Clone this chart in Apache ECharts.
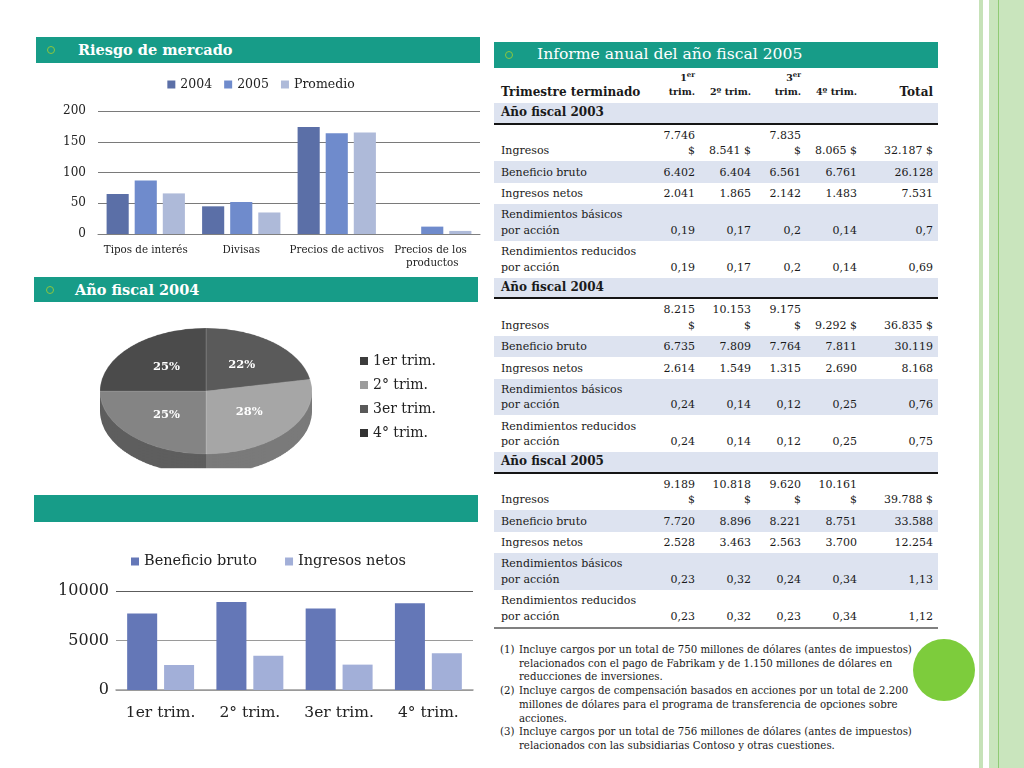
<!DOCTYPE html>
<html><head><meta charset="utf-8">
<script src="https://cdn.jsdelivr.net/npm/echarts@6/dist/echarts.min.js"></script>
<style>
*{box-sizing:border-box}
body{margin:0;width:1024px;height:768px;position:relative;background:#fff;font-family:"DejaVu Serif",serif;overflow:hidden;color:#1a1a1a}
.abs{position:absolute}
.hdr{position:absolute;background:#179c88;color:#fff;white-space:nowrap}
.hdr .dot{position:absolute;width:8px;height:8px;border:1.6px solid #8dc63f;border-radius:50%}
.hdr .t{position:absolute;top:0}
#tbl{position:absolute;left:494px;top:68px;width:444px;font-size:11px}
.row{display:flex;width:444px}
.cell{display:flex;flex-direction:column;justify-content:flex-end;text-align:right;line-height:15.5px;padding-bottom:2.5px;white-space:normal}
.c0{width:156px;padding-left:7px;text-align:left}
.c1{width:49px;padding-left:9px;padding-right:4px}
.c2{width:56px;padding-left:6.5px;padding-right:4px}
.c3{width:50px;padding-left:10px;padding-right:4px}
.c4{width:56px;padding-left:6.5px;padding-right:4px}
.c5{width:77px;padding-left:5px;padding-right:5px}
.shade{background:#dde3f0}
.fy{background:#dde3f0;border-bottom:2px solid #151515;font-weight:bold;font-size:12px}
.fy .cell{justify-content:center;padding-bottom:0}
.head .cell{font-weight:bold;font-size:9.5px;line-height:14px;padding-bottom:4px}
.head .c0,.head .c5{font-size:12px}
sup{font-size:7px;line-height:0;vertical-align:4px}
#notes{position:absolute;left:500px;top:643px;font-size:10.2px;line-height:13.7px;white-space:nowrap}
#notes .n{position:relative;padding-left:19px}
#notes .n span{position:absolute;left:0}
</style></head>
<body>
<div class="abs" style="left:979px;top:0;width:4px;height:768px;background:#c6e2b8"></div>
<div class="abs" style="left:989px;top:0;width:35px;height:768px;background:#c9e5bd"></div>
<div class="abs" style="left:998px;top:0;width:1.2px;height:768px;background:#8fca74"></div>
<div class="abs" style="left:913px;top:639px;width:62px;height:62px;border-radius:50%;background:#7dcc3c"></div>

<div class="hdr" style="left:36px;top:37px;width:444px;height:26px"><div class="dot" style="left:11px;top:9px"></div><div class="t" style="left:42px;font-weight:bold;font-size:14.5px;line-height:25px">Riesgo de mercado</div></div>
<div class="hdr" style="left:34px;top:277px;width:444px;height:25px"><div class="dot" style="left:12px;top:9px"></div><div class="t" style="left:41px;font-weight:bold;font-size:14.5px;line-height:25px">Año fiscal 2004</div></div>
<div class="hdr" style="left:34px;top:495px;width:444px;height:27px"></div>
<div class="hdr" style="left:494px;top:42px;width:444px;height:26px"><div class="dot" style="left:11px;top:9px"></div><div class="t" style="left:43px;font-size:15.6px;line-height:25px">Informe anual del año fiscal 2005</div></div>

<div id="c1" class="abs" style="left:36px;top:68px;width:450px;height:210px"></div>
<div id="pieA" class="abs" style="left:36px;top:261px;width:440px;height:260px;transform:scaleY(0.594);transform-origin:50% 50%"></div>
<div id="pieB" class="abs" style="left:36px;top:305px;width:440px;height:185px"></div>
<div id="c3" class="abs" style="left:34px;top:525px;width:450px;height:210px"></div>

<div id="tbl"></div>
<div id="notes"></div>

<script>
// ---- Data ----
const riskCategories = ['Tipos de interés', 'Divisas', 'Precios de activos', 'Precios de los productos'];
const risk2004 = [65, 45, 174, 0];
const risk2005 = [87, 52, 164, 12];
const riskPromedio = [66, 35, 165, 5];

const pieNames = ['1er trim.', '2° trim.', '3er trim.', '4° trim.'];
const pieValues = [22, 28, 25, 25];

const quarterNames = ['1er trim.', '2° trim.', '3er trim.', '4° trim.'];
const beneficioBruto = [7720, 8896, 8221, 8751];
const ingresosNetos = [2528, 3463, 2563, 3700];

const tableHeads = ['Trimestre terminado', '1er trim.', '2º trim.', '3er trim.', '4º trim.', 'Total'];
const fiscalYears = ['Año fiscal 2003', 'Año fiscal 2004', 'Año fiscal 2005'];
const rowNames = ['Ingresos', 'Beneficio bruto', 'Ingresos netos', 'Rendimientos básicos por acción', 'Rendimientos reducidos por acción'];
const fy2003 = [
  ['7.746 $', '8.541 $', '7.835 $', '8.065 $', '32.187 $'],
  ['6.402', '6.404', '6.561', '6.761', '26.128'],
  ['2.041', '1.865', '2.142', '1.483', '7.531'],
  ['0,19', '0,17', '0,2', '0,14', '0,7'],
  ['0,19', '0,17', '0,2', '0,14', '0,69']
];
const fy2004 = [
  ['8.215 $', '10.153 $', '9.175 $', '9.292 $', '36.835 $'],
  ['6.735', '7.809', '7.764', '7.811', '30.119'],
  ['2.614', '1.549', '1.315', '2.690', '8.168'],
  ['0,24', '0,14', '0,12', '0,25', '0,76'],
  ['0,24', '0,14', '0,12', '0,25', '0,75']
];
const fy2005 = [
  ['9.189 $', '10.818 $', '9.620 $', '10.161 $', '39.788 $'],
  ['7.720', '8.896', '8.221', '8.751', '33.588'],
  ['2.528', '3.463', '2.563', '3.700', '12.254'],
  ['0,23', '0,32', '0,24', '0,34', '1,13'],
  ['0,23', '0,32', '0,23', '0,34', '1,12']
];
const footnotes = [
  ['Incluye cargos por un total de 750 millones de dólares (antes de impuestos)', 'relacionados con el pago de Fabrikam y de 1.150 millones de dólares en', 'reducciones de inversiones.'],
  ['Incluye cargos de compensación basados en acciones por un total de 2.200', 'millones de dólares para el programa de transferencia de opciones sobre', 'acciones.'],
  ['Incluye cargos por un total de 756 millones de dólares (antes de impuestos)', 'relacionados con las subsidiarias Contoso y otras cuestiones.']
];

// ---- Styles ----
const FONT = 'DejaVu Serif';
const pieTop = ['#5a5a5a', '#a6a6a6', '#848484', '#4b4b4b'];
const pieSide = ['#3e3e3e', '#7a7a7a', '#5e5e5e', '#343434'];
const pieLegend = ['#3c3c3c', '#9c9c9c', '#595959', '#323232'];
const pieSquash = 0.594;
const pieCenterA = [170, 130];
const pieCenterB = [170, 86];
const pieRadius = 106;
const depthSteps = [34, 29, 24, 19, 14, 9, 4];

// ---- Chart 1 ----
const c1 = echarts.init(document.getElementById('c1'));
c1.setOption({
  animation: false,
  textStyle: { fontFamily: FONT },
  legend: { top: 5, left: 'center', icon: 'rect', itemWidth: 8, itemHeight: 8, itemGap: 12,
    textStyle: { fontFamily: FONT, fontSize: 12.5, color: '#222' } },
  grid: { left: 62, right: 6, top: 43, bottom: 44 },
  xAxis: { type: 'category', data: riskCategories,
    axisTick: { show: false }, axisLine: { lineStyle: { color: '#7f7f7f' } },
    axisLabel: { interval: 0, fontFamily: FONT, fontSize: 10.3, color: '#222', margin: 10, width: 100, overflow: 'break', lineHeight: 13 } },
  yAxis: { type: 'value', min: 0, max: 200, interval: 50,
    axisLabel: { fontFamily: FONT, fontSize: 12, color: '#222', margin: 12 },
    splitLine: { lineStyle: { color: '#7a7a7a' } } },
  series: [
    { type: 'bar', name: '2004', data: risk2004, itemStyle: { color: '#5b6fa7' }, barGap: '27%', barCategoryGap: '18%' },
    { type: 'bar', name: '2005', data: risk2005, itemStyle: { color: '#6f8bcc' } },
    { type: 'bar', name: 'Promedio', data: riskPromedio, itemStyle: { color: '#aebad9' } }
  ]
});

// ---- Pie (3D-look) ----
const pieA = echarts.init(document.getElementById('pieA'));
function pieData(colors) {
  return pieNames.map((n, i) => ({ name: n, value: pieValues[i], itemStyle: { color: colors[i] } }));
}
const pieSeries = depthSteps.map(off => ({
  type: 'pie', silent: true, center: [pieCenterA[0], pieCenterA[1] + off], radius: pieRadius,
  label: { show: false }, labelLine: { show: false }, data: pieData(pieSide)
}));
pieSeries.push({
  type: 'pie', silent: true, center: pieCenterA, radius: pieRadius,
  label: { show: false }, labelLine: { show: false },
  itemStyle: { borderColor: 'rgba(255,255,255,0.15)', borderWidth: 1 },
  data: pieData(pieTop)
});
pieA.setOption({ animation: false, series: pieSeries });

const pieB = echarts.init(document.getElementById('pieB'));
pieB.setOption({
  animation: false,
  legend: { orient: 'vertical', left: 319, top: 44, icon: 'rect', itemWidth: 8, itemHeight: 8, itemGap: 10,
    textStyle: { fontFamily: FONT, fontSize: 14, color: '#222', lineHeight: 14 },
    data: pieNames.map((n, i) => ({ name: n, itemStyle: { color: pieLegend[i], opacity: 1 } })) },
  series: [{
    type: 'pie', silent: true, center: pieCenterB, radius: pieRadius,
    data: pieNames.map((n, i) => ({ name: n, value: pieValues[i], itemStyle: { color: 'rgba(0,0,0,0)' } })),
    label: { show: true, position: 'inside', formatter: '{d}%', color: '#fff', fontWeight: 'bold', fontSize: 11.5, fontFamily: FONT },
    labelLine: { show: false },
    labelLayout: function (p) {
      const c = p.labelRect.y + p.labelRect.height / 2;
      return { dy: (c - pieCenterB[1]) * (pieSquash - 1) };
    }
  }]
});

// ---- Chart 3 ----
const c3 = echarts.init(document.getElementById('c3'));
c3.setOption({
  animation: false,
  textStyle: { fontFamily: FONT },
  legend: { top: 24, left: 92, icon: 'rect', itemWidth: 8, itemHeight: 8, itemGap: 28,
    textStyle: { fontFamily: FONT, fontSize: 14.5, color: '#222' } },
  grid: { left: 82, right: 11, top: 66, bottom: 45 },
  xAxis: { type: 'category', data: quarterNames,
    axisTick: { show: false }, axisLine: { lineStyle: { color: '#9a9a9a', width: 1.5 } },
    axisLabel: { interval: 0, fontFamily: FONT, fontSize: 15.5, color: '#222', margin: 15 } },
  yAxis: { type: 'value', min: 0, max: 10000, interval: 5000,
    axisLabel: { fontFamily: FONT, fontSize: 16, color: '#222', margin: 7, formatter: v => String(v) },
    splitLine: { lineStyle: { color: ['#9a9a9a', '#9a9a9a', '#5c5c5c'], width: 1.2 } } },
  series: [
    { type: 'bar', name: 'Beneficio bruto', data: beneficioBruto, itemStyle: { color: '#6477b7' }, barGap: '23%', barCategoryGap: '25%' },
    { type: 'bar', name: 'Ingresos netos', data: ingresosNetos, itemStyle: { color: '#a2afd8' } }
  ]
});

// ---- Table ----
const heights = { head: 35, fy: 21.5, rows: [36.5, 21.5, 21.5, 36.8, 36.8] };
const shaded = [false, true, false, true, false];
function sup(t) { return t.replace(/(\d)(er)/, '$1<sup>$2</sup>'); }
let html = '<div class="row head" style="height:' + heights.head + 'px">' +
  tableHeads.map((h, i) => '<div class="cell c' + i + '"><div>' + sup(h) + '</div></div>').join('') + '</div>';
[fy2003, fy2004, fy2005].forEach((block, b) => {
  html += '<div class="row fy" style="height:' + heights.fy + 'px"><div class="cell c0" style="width:444px"><div>' + fiscalYears[b] + '</div></div></div>';
  block.forEach((vals, r) => {
    html += '<div class="row' + (shaded[r] ? ' shade' : '') + '" style="height:' + heights.rows[r] + 'px">' +
      '<div class="cell c0"><div>' + rowNames[r].replace(' por ', '<br>por ') + '</div></div>' +
      vals.map((v, i) => '<div class="cell c' + (i + 1) + '"><div>' + v + '</div></div>').join('') + '</div>';
  });
});
html += '<div style="height:2px;background:#808080;width:444px"></div>';
document.getElementById('tbl').innerHTML = html;

document.getElementById('notes').innerHTML = footnotes.map((lines, i) =>
  lines.map((l, j) => '<div class="n">' + (j === 0 ? '<span>(' + (i + 1) + ')</span>' : '') + l + '</div>').join('')
).join('');
</script>
</body></html>
